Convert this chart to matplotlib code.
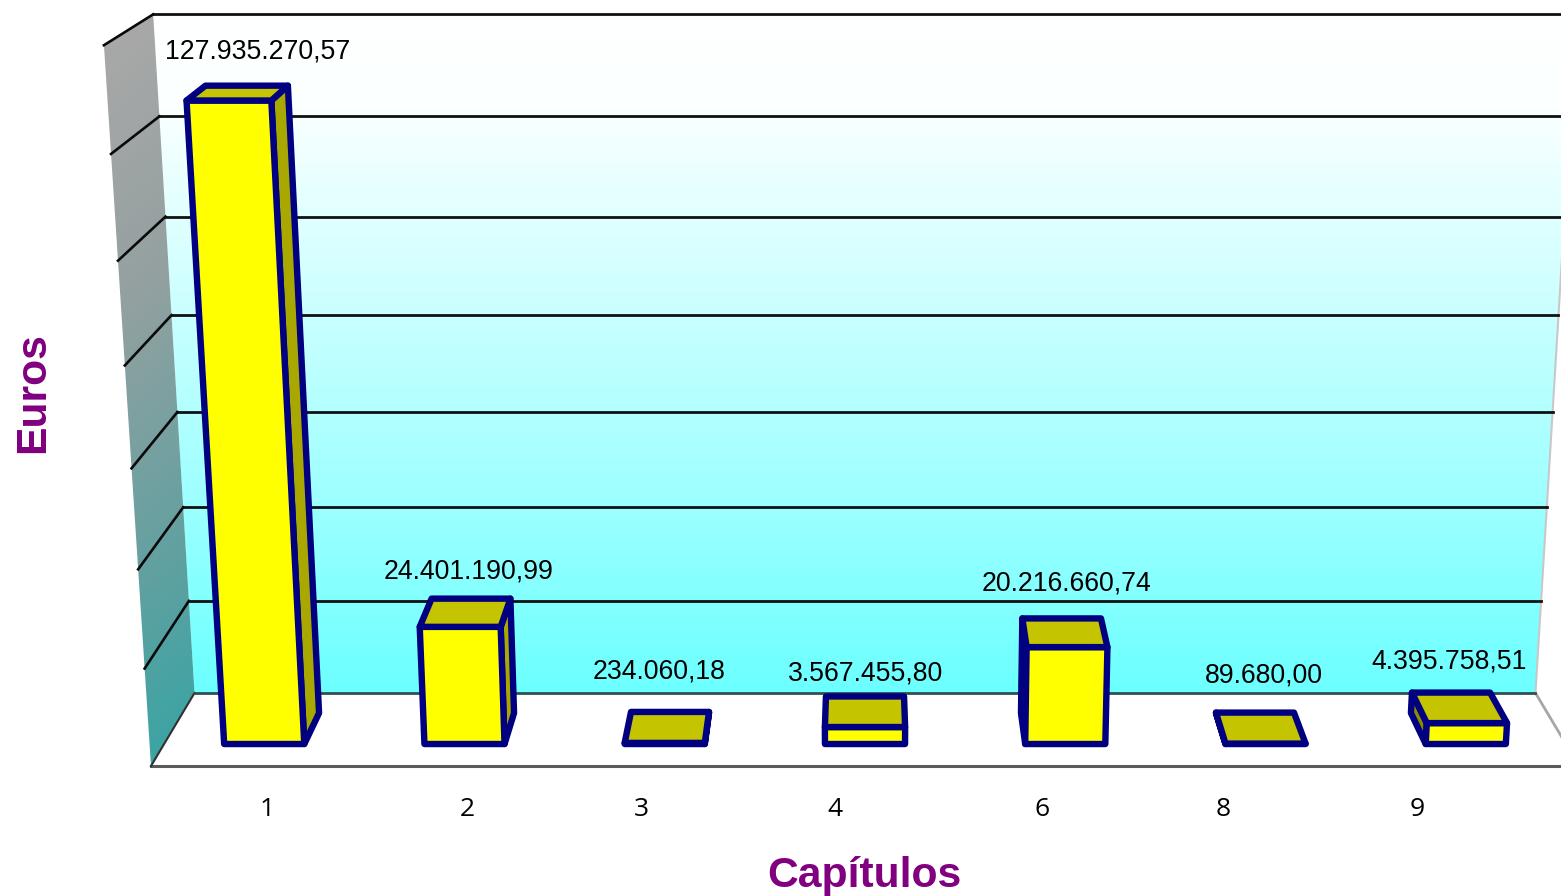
import numpy as np
import matplotlib
matplotlib.use("Agg")
import matplotlib.pyplot as plt
from matplotlib.colors import LinearSegmentedColormap
from matplotlib.patches import Polygon

# ---- data ----
categories = ["1", "2", "3", "4", "6", "8", "9"]
values = [127935270.57, 24401190.99, 234060.18, 3567455.80,
          20216660.74, 89680.00, 4395758.51]
value_labels = ["127.935.270,57", "24.401.190,99", "234.060,18", "3.567.455,80",
                "20.216.660,74", "89.680,00", "4.395.758,51"]
axis_ticks = [0, 20e6, 40e6, 60e6, 80e6, 100e6, 120e6, 140e6]
x_title = "Capítulos"
y_title = "Euros"

# ---- layout (pixels) ----
W, H = 1561, 896
VX = 865.0            # horizontal centre of the view
FLOOR_Y = 766.0       # front edge of the floor
VP_DOWN = 11700.0     # vertical vanishing point
VP_BACK = -432.0      # depth vanishing point
HALF_W = 714.0        # half width of the plot box
DEPTH = 0.0649
PX_PER_UNIT = 4.83e-6
C = 10934.0
BAR_FRAC = 0.4
Z0, Z1 = 0.288, 0.713
label_xy = [(257.5, 51), (468.5, 571), (659.5, 671), (865.5, 673), (1066.5, 583), (1263.5, 675), (1449.5, 662)]
tick_x = [267, 467, 641, 835, 1042, 1223, 1417]
tick_y = 810


def project(x, val, z):
    """x in plot-box px from centre, val in euros, z in 0..1 of depth."""
    t = z * DEPTH
    y = val * PX_PER_UNIT / C
    w = 1 + t - y
    u = VX * w + x
    v = FLOOR_Y - 0 + t * VP_BACK - y * VP_DOWN
    return u / w, v / w


fig = plt.figure(figsize=(W / 100, H / 100), dpi=100, facecolor="white")
ax = fig.add_axes([0, 0, 1, 1])
ax.set_xlim(0, W)
ax.set_ylim(H, 0)
ax.axis("off")

top_val = axis_ticks[-1]
bl = project(-HALF_W, 0, 1)
br = project(HALF_W, 0, 1)
tl = project(-HALF_W, top_val, 1)
tr = project(HALF_W, top_val, 1)
fl = project(-HALF_W, 0, 0)
fr = project(HALF_W, 0, 0)
ftl = project(-HALF_W, top_val, 0)
ftr = project(HALF_W, top_val, 0)

# back wall gradient
cm_back = LinearSegmentedColormap.from_list(
    "back", [(0, "#FFFFFF"), (0.13, "#FBFFFF"), (0.45, "#C8FFFF"), (0.75, "#98FFFF"), (1, "#6CFFFF")])
grad = np.linspace(0, 1, 400)[:, None]
im = ax.imshow(grad, cmap=cm_back, extent=(tl[0], br[0] + 60, bl[1], tl[1]), aspect="auto", zorder=1)
back_poly = Polygon([tl, tr, br, bl], closed=True, transform=ax.transData, fc="none", ec="none")
ax.add_patch(back_poly)
im.set_clip_path(back_poly)

# left wall gradient
cm_left = LinearSegmentedColormap.from_list(
    "left", [(0, "#A8A8A8"), (0.35, "#94A0A0"), (0.7, "#68A0A0"), (1, "#3CA4A4")])
yy, xx = np.mgrid[0:1:300j, 0:1:60j]
im2 = ax.imshow(np.clip(yy + 0.05 * xx - 0.05 * (1 - xx), 0, 1), cmap=cm_left,
                extent=(ftl[0], bl[0], fl[1], tl[1]), aspect="auto", zorder=1)
left_poly = Polygon([ftl, tl, bl, fl], closed=True, transform=ax.transData, fc="none", ec="none")
ax.add_patch(left_poly)
im2.set_clip_path(left_poly)
ax.set_xlim(0, W)
ax.set_ylim(H, 0)

# floor and right wall
ax.add_patch(Polygon([bl, br, fr, fl], closed=True, fc="white", ec="none", zorder=1.5))
ax.plot([br[0], fr[0]], [br[1], fr[1]], color="#A6A6A6", lw=2, zorder=2)
ax.plot([tr[0], br[0]], [tr[1], br[1]], color="#C8C8C8", lw=1.5, zorder=2)
ax.plot([fl[0], fr[0]], [fl[1], fr[1]], color="#5A5A5A", lw=2.2, zorder=2)
ax.plot([fl[0], bl[0]], [fl[1], bl[1]], color="#303030", lw=1.5, zorder=2)

# gridlines
for i, tv in enumerate(axis_ticks):
    a = project(-HALF_W, tv, 0)
    b = project(-HALF_W, tv, 1)
    c = project(HALF_W, tv, 1)
    col = "#111111" if i else "#305050"
    ax.plot([b[0], c[0]], [b[1], c[1]], color=col, lw=2.0, zorder=2)
    if i:
        ax.plot([a[0], b[0]], [a[1], b[1]], color="#0A0A0A", lw=1.9, zorder=2)

# bars
slot = 2 * HALF_W / len(categories)
bar_w = slot * BAR_FRAC
NAVY = "#000080"
style = dict(closed=True, ec=NAVY, lw=4.6, joinstyle="round", zorder=3)
for i, val in enumerate(values):
    cx = -HALF_W + slot * (i + 0.5)
    x0, x1 = cx - bar_w / 2, cx + bar_w / 2
    A = project(x0, 0, Z0); B = project(x1, 0, Z0)
    C_ = project(x1, val, Z0); D = project(x0, val, Z0)
    E = project(x0, 0, Z1); F = project(x1, 0, Z1)
    G = project(x1, val, Z1); K = project(x0, val, Z1)
    if cx < 0:
        ax.add_patch(Polygon([B, F, G, C_], fc="#A8A800", **style))
    elif cx > 0:
        ax.add_patch(Polygon([A, E, K, D], fc="#8C8C00", **style))
    ax.add_patch(Polygon([A, B, C_, D], fc="#FFFF00", **style))
    ax.add_patch(Polygon([D, C_, G, K], fc="#C4C400", **style))

# texts
for (lx, ly), s in zip(label_xy, value_labels):
    ax.text(lx, ly, s, ha="center", va="center", fontsize=19.2, family="Liberation Sans",
            color="black", zorder=5)
for tx, s in zip(tick_x, categories):
    ax.text(tx, tick_y, s, ha="center", va="center", fontsize=19, family="Open Sans",
            color="black", zorder=5)
ax.text(864, 876, x_title, ha="center", va="center", fontsize=30.7, family="Liberation Sans",
        fontweight="bold", color="#800080", zorder=5)
ax.text(33, 393, y_title, ha="center", va="center", rotation=90, fontsize=30.7,
        family="Liberation Sans", fontweight="bold", color="#800080", zorder=5)

fig.savefig("out.png", dpi=100, facecolor="white")
